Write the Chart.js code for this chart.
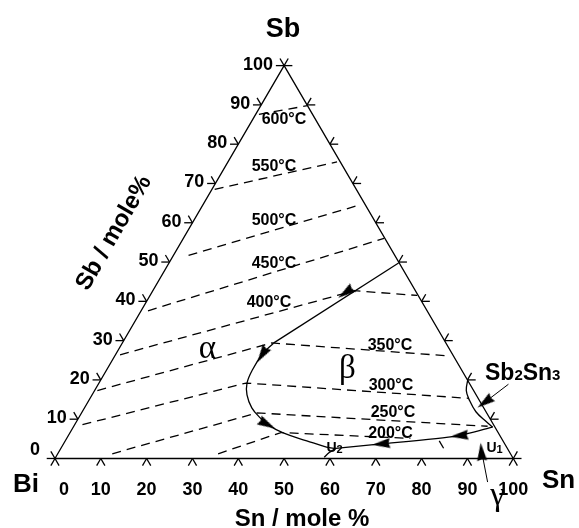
<!DOCTYPE html>
<html>
<head>
<meta charset="utf-8">
<script src="https://cdn.jsdelivr.net/npm/chart.js@4.4.1/dist/chart.umd.min.js"></script>
<style>
  html, body { margin: 0; padding: 0; background: #fff; }
  #wrap { width: 579px; height: 528px; }
</style>
</head>
<body>
<div id="wrap"><canvas id="ternary" width="579" height="528"></canvas></div>
<script>
// every composition is [Sn mole %, Sb mole %], Bi is the rest
const tickValues = [0, 10, 20, 30, 40, 50, 60, 70, 80, 90, 100];
const snTickLabels = ['0', '10', '20', '30', '40', '50', '60', '70', '80', '90', '100'];
const sbTickLabels = ['0', '10', '20', '30', '40', '50', '60', '70', '80', '90', '100'];

const triangle = [[0, 0], [100, 0], [0, 100], [0, 0]];

// isotherms (dashed)
const isoNames = ['600°C', '550°C', '500°C', '450°C', '400°C', '350°C', '300°C', '250°C', '200°C'];
const iso600 = [[0.7, 87.6], [10.2, 89.8]];
const iso550 = [[0.6, 68.5], [23.8, 75.5]];
const iso500 = [[3.3, 51.7], [34.4, 64.6]];
const iso450 = [[1.5, 37.6], [43.8, 56.0]];
const iso400 = [[1.0, 26.4], [44.0, 42.7], [58.3, 41.5]];
const iso350 = [[0.6, 17.3], [32.6, 29.4], [73.0, 26.1]];
const iso300 = [[1.7, 8.6], [32.1, 19.2], [82.7, 15.3]];
const iso250 = [[11.9, 1.2], [38.3, 11.6], [90.3, 8.2]];
const iso200 = [[35.0, 1.2], [46.0, 6.6], [75.0, 5.1]];
const iso200tail = [[81.6, 4.5], [83.5, 2.6]];

// monovariant lines
const valleyTop = [[50.1, 49.75], [33.0, 29.35]];
const valleyLoop = [[33.0, 29.35], [32.0, 26.6], [31.8, 22.6], [32.3, 19.2], [33.8, 16.2], [36.5, 12.9],
  [39.8, 10.2], [42.35, 8.5], [46.55, 6.5], [52.7, 4.5], [57.8, 2.9], [60.0, 2.56]];
const valleyBottom = [[60.0, 2.56], [69.3, 3.7], [84.7, 5.7], [91.5, 8.0]];
const sb2sn3Curve = [[80.0, 20.2], [81.1, 17.3], [83.0, 14.85], [85.9, 11.9], [89.3, 9.45], [91.5, 8.0]];
const u2Arc = [[58.6, 0.3], [59.1, 1.5], [60.0, 2.56]];

// label pointers
const sbPointer = [[89.5, 18.9], [86.2, 13.6]];
const gammaPointer = [[97.4, -6.0], [91.8, 2.4]];

// arrow heads: where they sit and where they point to
const arrowAt = [[42.3, 42.2], [32.0, 26.4], [41.95, 8.7], [69.3, 3.7], [85.3, 5.8], [86.65, 14.3], [92.2, 1.7]];
const arrowTo = [[33.0, 29.35], [31.8, 22.6], [46.55, 6.5], [60.0, 2.56], [69.3, 3.7], [85.9, 13.2], [91.4, 3.1]];

const T = 1.8; // tick length, mole %

function pt(c) {
  return { x: c[0] + c[1] / 2, y: c[1] };
}

function lineSet(points, extra) {
  return Object.assign({
    data: points.map(pt),
    showLine: true,
    borderColor: '#000',
    borderWidth: 1.3,
    pointRadius: 0,
    fill: false,
    tension: 0
  }, extra || {});
}

const dashed = { borderDash: [9, 6], borderWidth: 1.3 };

const datasets = [];
datasets.push(lineSet(triangle));

for (const v of tickValues) {
  datasets.push(lineSet([[v, 0], [v, -T]]));
  datasets.push(lineSet([[v, 0], [v + T, -T]]));
  datasets.push(lineSet([[0, v], [-T, v]]));
  datasets.push(lineSet([[0, v], [-T, v + T]]));
  datasets.push(lineSet([[100 - v, v], [100 - v + T, v]]));
  datasets.push(lineSet([[100 - v, v], [100 - v, v + T]]));
}

[iso600, iso550, iso500, iso450, iso400, iso350, iso300, iso250, iso200, iso200tail].forEach(iso => {
  datasets.push(lineSet(iso, dashed));
});

datasets.push(lineSet(valleyTop));
datasets.push(lineSet(valleyLoop, { tension: 0.4 }));
datasets.push(lineSet(valleyBottom, { tension: 0.2 }));
datasets.push(lineSet(sb2sn3Curve, { tension: 0.4 }));
datasets.push(lineSet(u2Arc, { tension: 0.4 }));
datasets.push(lineSet(sbPointer, { borderWidth: 1 }));
datasets.push(lineSet(gammaPointer, { borderWidth: 1 }));

// filled arrow head picture, pointing to +x
const arrowImg = document.createElement('canvas');
arrowImg.width = 18;
arrowImg.height = 11;
(function () {
  const c = arrowImg.getContext('2d');
  c.fillStyle = '#000';
  c.beginPath();
  c.moveTo(18, 5.5);
  c.lineTo(0, 0.5);
  c.lineTo(1.5, 5.5);
  c.lineTo(0, 10.5);
  c.closePath();
  c.fill();
})();

datasets.push({
  data: arrowAt.map(pt),
  showLine: false,
  pointStyle: arrowImg,
  pointRadius: 5,
  rotation: (ctx) => {
    const i = ctx.dataIndex;
    const sc = ctx.chart.scales;
    if (i === undefined || !sc || !sc.x) return 0;
    const a = pt(arrowAt[i]);
    const b = pt(arrowTo[i]);
    const dx = sc.x.getPixelForValue(b.x) - sc.x.getPixelForValue(a.x);
    const dy = sc.y.getPixelForValue(b.y) - sc.y.getPixelForValue(a.y);
    return Math.atan2(dy, dx) * 180 / Math.PI;
  }
});

const textPlugin = {
  id: 'diagramText',
  afterDatasetsDraw(chart) {
    const { ctx } = chart;
    const { x, y } = chart.scales;
    const px = c => [x.getPixelForValue(c[0] + c[1] / 2), y.getPixelForValue(c[1])];
    const sans = '"Liberation Sans", Arial, Helvetica, sans-serif';
    const serif = '"Liberation Serif", "Times New Roman", serif';

    ctx.save();
    ctx.fillStyle = '#000';

    // tick labels
    ctx.font = 'bold 18px ' + sans;
    ctx.textBaseline = 'middle';
    ctx.textAlign = 'center';
    snTickLabels.forEach((lab, i) => {
      const [tx] = px([tickValues[i], 0]);
      ctx.fillText(lab, i === 0 ? tx + 9 : tx, 490);
    });
    ctx.textAlign = 'right';
    sbTickLabels.forEach((lab, i) => {
      const [tx, ty] = px([0, tickValues[i]]);
      if (i === 0) ctx.fillText(lab, tx - 15, ty - 8);
      else ctx.fillText(lab, tx - 11, ty - 1);
    });

    // isotherm labels
    const isoPos = [[284, 119.5], [274, 166.5], [274, 221], [274, 264], [269, 303],
      [390, 346], [391, 386], [393, 412.5], [390.5, 434]];
    ctx.font = 'bold 16px ' + sans;
    ctx.textAlign = 'center';
    isoNames.forEach((lab, i) => ctx.fillText(lab, isoPos[i][0], isoPos[i][1]));

    // corner and axis titles
    ctx.textBaseline = 'alphabetic';
    ctx.font = 'bold 27px ' + sans;
    ctx.textAlign = 'center';
    ctx.fillText('Sb', 283, 37);
    ctx.font = 'bold 26px ' + sans;
    ctx.textAlign = 'left';
    ctx.fillText('Bi', 13, 492);
    ctx.fillText('Sn', 542, 488);

    ctx.font = 'bold 24px ' + sans;
    ctx.textAlign = 'center';
    ctx.fillText('Sn / mole %', 302, 526);

    ctx.save();
    ctx.translate(114, 233);
    ctx.rotate(-60 * Math.PI / 180);
    ctx.textBaseline = 'middle';
    ctx.fillText('Sb / mole%', 0, 0);
    ctx.restore();

    // phase fields
    ctx.font = '33px ' + serif;
    ctx.textAlign = 'center';
    ctx.fillText('α', 207.5, 358);
    ctx.fillText('β', 347.5, 378);
    ctx.fillText('γ', 497.5, 505);

    // formula with small digits
    const parts = [['Sb', 23], ['2', 15], ['Sn', 23], ['3', 15]];
    let cx = 485;
    ctx.textAlign = 'left';
    for (const [s, size] of parts) {
      ctx.font = 'bold ' + size + 'px ' + sans;
      ctx.fillText(s, cx, 380);
      cx += ctx.measureText(s).width;
    }

    // invariant points
    const inv = [['U', '2', 326.5], ['U', '1', 486.5]];
    for (const [u, d, ux] of inv) {
      ctx.font = 'bold 14px ' + sans;
      ctx.fillText(u, ux, 452);
      const w = ctx.measureText(u).width;
      ctx.font = 'bold 11px ' + sans;
      ctx.fillText(d, ux + w, 453);
    }

    ctx.restore();
  }
};

new Chart(document.getElementById('ternary'), {
  type: 'scatter',
  data: { datasets },
  options: {
    responsive: false,
    animation: false,
    events: [],
    layout: { padding: 0 },
    plugins: {
      legend: { display: false },
      tooltip: { enabled: false }
    },
    scales: {
      x: { type: 'linear', display: false, bounds: 'data', min: -10.6838, max: 113.0342 },
      y: { type: 'linear', display: false, bounds: 'data', min: -16.1692, max: 115.1741 }
    }
  },
  plugins: [textPlugin]
});
</script>
</body>
</html>
